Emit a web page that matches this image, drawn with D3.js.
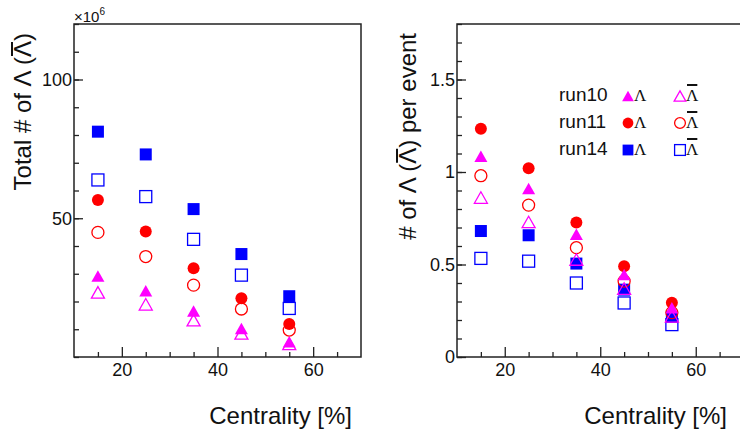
<!DOCTYPE html>
<meta charset="utf-8">
<style>
body { margin: 0; background: #fff; }
svg { font-family: "Liberation Sans", Arial, sans-serif; }
.frame { fill: none; stroke: #222; stroke-width: 1.5px; }
.tick line { stroke: #222; stroke-width: 1.3px; }
.tick text { fill: #111; font-size: 18px; }
.title { font-size: 24px; fill: #111; }
</style>
<svg width="740" height="432"></svg>
<script src="https://cdn.jsdelivr.net/npm/d3@7"></script>
<script>

var svg = d3.select("svg");

// centrality bins
var cent = [15, 25, 35, 45, 55];

// total yield (x10^6)
var totL10  = [29.2, 23.9, 16.6, 10.3, 5.5];
var totLb10 = [23.3, 19.0, 13.3, 8.5, 4.7];
var totL11  = [56.6, 45.2, 32.0, 21.2, 11.9];
var totLb11 = [44.9, 36.2, 25.9, 17.3, 9.7];
var totL14  = [81.2, 73.0, 53.3, 37.1, 21.9];
var totLb14 = [63.8, 57.8, 42.4, 29.5, 17.5];

// per event
var evL10  = [1.085, 0.911, 0.663, 0.446, 0.266];
var evLb10 = [0.862, 0.73, 0.527, 0.37, 0.22];
var evL11  = [1.234, 1.02, 0.727, 0.491, 0.293];
var evLb11 = [0.98, 0.821, 0.591, 0.41, 0.24];
var evL14  = [0.681, 0.658, 0.505, 0.364, 0.217];
var evLb14 = [0.533, 0.518, 0.40, 0.292, 0.175];

var runs = ["run10", "run11", "run14"];
var colors = {run10: "#ff00ff", run11: "#ff0000", run14: "#0000ff"};
var shapes = {run10: "tri", run11: "circ", run14: "sq"};

function marker(g, shape, col, filled, x, y, s) {
  s = s || 1;
  var m;
  if (shape == "circ") {
    m = g.append("circle").attr("cx", x).attr("cy", y).attr("r", 6 * s);
  } else if (shape == "sq") {
    var a = 12 * s;
    m = g.append("rect").attr("x", x - a / 2).attr("y", y - a / 2).attr("width", a).attr("height", a);
  } else {
    var w = 13 * s, h = 11.5 * s;
    m = g.append("path").attr("d", "M" + x + "," + (y - h / 2) + "L" + (x + w / 2) + "," + (y + h / 2) + "L" + (x - w / 2) + "," + (y + h / 2) + "Z");
  }
  if (filled) m.attr("fill", col).attr("stroke", "none");
  else m.attr("fill", "none").attr("stroke", col).attr("stroke-width", 1.3);
}

// draw a bar over one character of a text element
function overline(g, txt, idx, lift) {
  var node = txt.node();
  var p = node.getStartPositionOfChar(idx);
  var w = node.getSubStringLength(idx, 1);
  g.append("line")
    .attr("x1", p.x + 1).attr("x2", p.x + w - 1)
    .attr("y1", p.y - lift).attr("y2", p.y - lift)
    .attr("stroke", txt.attr("fill") || "#111").attr("stroke-width", 2);
}

function panel(o) {
  var x = d3.scaleLinear().domain([10, 70]).range([o.left, o.right]);
  var y = d3.scaleLinear().domain(o.ydom).range([357, 24]);
  var g = svg.append("g");

  g.append("g").attr("transform", "translate(0,357)")
    .call(d3.axisBottom(x).tickValues([15, 25, 30, 35, 45, 50, 55, 65]).tickSize(-5).tickFormat(""))
    .call(a => a.select(".domain").remove());
  g.append("g").attr("transform", "translate(0,357)")
    .call(d3.axisBottom(x).tickValues([20, 40, 60]).tickSize(-10).tickPadding(6))
    .call(a => a.select(".domain").remove());

  g.append("g").attr("transform", "translate(" + o.left + ",0)")
    .call(d3.axisLeft(y).tickValues(o.yminor).tickSize(-5).tickFormat(""))
    .call(a => a.select(".domain").remove());
  g.append("g").attr("transform", "translate(" + o.left + ",0)")
    .call(d3.axisLeft(y).tickValues(o.ymajor).tickSize(-9).tickPadding(2).tickFormat(d => String(d)))
    .call(a => a.select(".domain").remove());

  g.selectAll("g.tick text").attr("font-family", null).attr("font-size", null);

  g.append("rect").attr("class", "frame")
    .attr("x", o.left).attr("y", 24).attr("width", o.right - o.left).attr("height", 333);

  // markers: per run, antiparticle (open) then particle (filled)
  ["run14", "run11", "run10"].forEach(function(r) {
    o.data[r][1].forEach(function(v, i) {
      marker(g, shapes[r], colors[r], false, x(cent[i]), y(v));
    });
    o.data[r][0].forEach(function(v, i) {
      marker(g, shapes[r], colors[r], true, x(cent[i]), y(v));
    });
  });

  g.append("text").attr("class", "title")
    .attr("x", o.xtitleEnd).attr("y", 424).attr("text-anchor", "end")
    .text("Centrality [%]");

  var tg = g.append("g").attr("transform", "translate(" + o.ytitleX + ",33) rotate(-90)");
  var t = tg.append("text").attr("class", "title").attr("text-anchor", "end").attr("fill", "#111")
    .text(o.ytitle);
  overline(tg, t, o.ytitle.lastIndexOf("Λ"), 19);
  return g;
}

panel({
  left: 74, right: 361, ydom: [0, 120],
  ymajor: [50, 100], yminor: d3.range(0, 121, 10),
  data: {run10: [totL10, totLb10], run11: [totL11, totLb11], run14: [totL14, totLb14]},
  xtitleEnd: 352, ytitleX: 31,
  ytitle: "Total # of Λ (Λ)"
});

svg.append("text").attr("x", 74).attr("y", 22).attr("font-size", 15).attr("fill", "#111")
  .text("×10").append("tspan").attr("font-size", 10).attr("dy", -7).text("6");

panel({
  left: 457, right: 743.5, ydom: [0, 1.8],
  ymajor: [0, 0.5, 1, 1.5], yminor: d3.range(0, 1.81, 0.1),
  data: {run10: [evL10, evLb10], run11: [evL11, evLb11], run14: [evL14, evLb14]},
  xtitleEnd: 727, ytitleX: 416,
  ytitle: "# of Λ (Λ) per event"
});

// legend
var leg = svg.append("g");
runs.forEach(function(r, i) {
  var base = 101 + i * 27;
  leg.append("text").attr("x", 559).attr("y", base).attr("font-size", 19).attr("fill", "#111").text(r);
  marker(leg, shapes[r], colors[r], true, 628, base - 5, 0.9);
  leg.append("text").attr("x", 634).attr("y", base).attr("font-size", 17)
    .attr("font-family", "Liberation Serif, serif").attr("fill", "#111").text("Λ");
  marker(leg, shapes[r], colors[r], false, 680, base - 5, 0.9);
  var lb = leg.append("text").attr("x", 686).attr("y", base).attr("font-size", 17)
    .attr("font-family", "Liberation Serif, serif").attr("fill", "#111").text("Λ");
  overline(leg, lb, 0, 16);
});

</script>
